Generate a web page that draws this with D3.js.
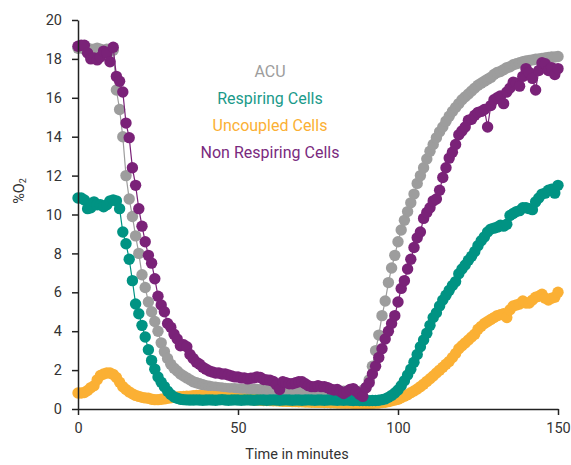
<!DOCTYPE html>
<html>
<head>
<meta charset="utf-8">
<script src="https://cdn.jsdelivr.net/npm/d3@7"></script>
<style>
body { margin: 0; background: #fff; }
text { font-family: Roboto, "DejaVu Sans", sans-serif; }
</style>
</head>
<body>
<svg></svg>
<script>
// minutes 0..150, one reading per minute
var minutes = d3.range(0, 151);

var acu = [
18.55, 18.6, 18.5, 18.55, 18.5, 18.5, 18.55, 18.5, 18.45, 18.5,
18.4, 18.45, 16.4, 15.4, 14.0, 12.0, 10.8, 9.9, 8.9, 8.0,
6.9, 6.25, 5.5, 5.0, 4.5, 4.0, 3.4, 2.95, 2.6, 2.3,
2.1, 1.95, 1.8, 1.7, 1.6, 1.5, 1.4, 1.35, 1.3, 1.25,
1.2, 1.17, 1.14, 1.12, 1.1, 1.08, 1.06, 1.05, 1.05, 1.04,
1.03, 1.02, 1.02, 1.01, 1.0, 1.0, 1.0, 0.99, 0.99, 0.98,
0.98, 0.98, 0.97, 0.97, 0.97, 0.96, 0.96, 0.96, 0.95, 0.95,
0.95, 0.95, 0.94, 0.94, 0.94, 0.93, 0.93, 0.93, 0.93, 0.92,
0.92, 0.92, 0.92, 0.91, 0.91, 0.91, 0.9, 0.9, 0.9, 0.95,
1.1, 1.5, 2.2, 3.0, 3.8, 4.8, 5.55, 6.5, 7.25, 7.9,
8.6, 9.2, 9.7, 10.15, 10.6, 11.05, 11.6, 12.0, 12.4, 12.85,
13.25, 13.6, 13.95, 14.25, 14.5, 14.8, 15.05, 15.3, 15.5, 15.7,
15.9, 16.05, 16.2, 16.35, 16.5, 16.65, 16.75, 16.85, 16.95, 17.05,
17.2, 17.3, 17.35, 17.45, 17.55, 17.6, 17.7, 17.75, 17.8, 17.85,
17.9, 17.92, 17.95, 17.98, 18.0, 18.02, 18.05, 18.08, 18.1, 18.1, 18.12
];

var respiring = [
10.85, 10.85, 10.75, 10.3, 10.35, 10.65, 10.5, 10.5, 10.4, 10.5,
10.7, 10.75, 10.7, 10.3, 9.1, 8.5, 7.7, 6.6, 5.4, 4.9,
4.3, 3.7, 3.05, 2.5, 2.05, 1.65, 1.38, 1.15, 0.92, 0.75,
0.62, 0.55, 0.5, 0.48, 0.47, 0.46, 0.46, 0.47, 0.46, 0.45,
0.46, 0.47, 0.46, 0.45, 0.47, 0.48, 0.46, 0.45, 0.46, 0.47,
0.46, 0.45, 0.46, 0.47, 0.46, 0.45, 0.46, 0.47, 0.46, 0.45,
0.46, 0.47, 0.46, 0.45, 0.46, 0.47, 0.46, 0.45, 0.46, 0.46,
0.45, 0.46, 0.47, 0.46, 0.45, 0.46, 0.46, 0.45, 0.46, 0.47,
0.46, 0.45, 0.46, 0.45, 0.46, 0.45, 0.44, 0.45, 0.44, 0.44,
0.44, 0.43, 0.44, 0.44, 0.45, 0.48, 0.52, 0.6, 0.7, 0.82,
0.98, 1.2, 1.45, 1.75, 2.05, 2.4, 2.8, 3.2, 3.55, 3.9,
4.3, 4.7, 4.95, 5.3, 5.6, 5.85, 6.1, 6.35, 6.55, 6.95,
7.2, 7.4, 7.65, 7.85, 8.1, 8.4, 8.65, 8.85, 9.1, 9.25,
9.3, 9.35, 9.45, 9.4, 9.5, 9.95, 10.05, 10.15, 10.2, 10.35,
10.35, 10.3, 10.25, 10.65, 10.85, 11.05, 11.1, 11.25, 11.3, 11.1, 11.5
];

var uncoupled = [
0.82, 0.82, 0.85, 0.95, 1.1, 1.2, 1.5, 1.72, 1.8, 1.85,
1.85, 1.78, 1.62, 1.38, 1.15, 1.0, 0.88, 0.78, 0.7, 0.65,
0.6, 0.57, 0.55, 0.5, 0.48, 0.48, 0.5, 0.52, 0.55, 0.58,
0.6, 0.62, 0.63, 0.65, 0.66, 0.66, 0.68, 0.7, 0.7, 0.68,
0.66, 0.65, 0.64, 0.63, 0.62, 0.6, 0.58, 0.56, 0.55, 0.53,
0.52, 0.5, 0.5, 0.49, 0.48, 0.47, 0.46, 0.45, 0.44, 0.44,
0.43, 0.42, 0.42, 0.41, 0.4, 0.4, 0.39, 0.38, 0.38, 0.37,
0.37, 0.36, 0.36, 0.35, 0.35, 0.34, 0.34, 0.33, 0.33, 0.32,
0.32, 0.31, 0.31, 0.3, 0.3, 0.3, 0.29, 0.29, 0.29, 0.28,
0.28, 0.28, 0.29, 0.3, 0.31, 0.33, 0.35, 0.38, 0.42, 0.46,
0.5, 0.58, 0.66, 0.74, 0.84, 0.93, 1.03, 1.15, 1.28, 1.42,
1.56, 1.7, 1.85, 2.0, 2.15, 2.3, 2.45, 2.65, 2.85, 3.1,
3.25, 3.4, 3.55, 3.7, 3.85, 4.1, 4.25, 4.4, 4.5, 4.6,
4.7, 4.8, 4.85, 4.9, 4.7, 5.1, 5.3, 5.35, 5.4, 5.55,
5.45, 5.45, 5.6, 5.75, 5.8, 5.9, 5.7, 5.6, 5.7, 5.75, 6.0
];

var nonRespiring = [
18.65, 18.7, 18.7, 18.3, 18.0, 18.05, 17.95, 18.1, 18.4, 18.3,
17.85, 18.6, 17.1, 16.85, 16.3, 14.7, 13.95, 12.4, 11.5, 10.3,
9.4, 8.6, 7.9, 7.5, 6.7, 5.8, 5.35, 5.0, 4.4, 4.2,
3.85, 3.6, 3.25, 3.3, 3.2, 2.8, 2.6, 2.4, 2.3, 2.15,
2.05, 1.95, 1.9, 1.85, 1.85, 1.8, 1.8, 1.75, 1.7, 1.65,
1.65, 1.6, 1.6, 1.55, 1.58, 1.6, 1.65, 1.62, 1.52, 1.5,
1.48, 1.42, 1.25, 1.0, 1.4, 1.35, 1.3, 1.3, 1.35, 1.4,
1.4, 1.3, 1.2, 1.15, 1.15, 1.2, 1.15, 1.15, 1.1, 1.02,
0.98, 1.0, 0.9, 0.8, 0.9, 1.0, 1.05, 0.9, 0.75, 0.65,
1.1, 1.35, 1.8, 2.2, 2.65, 3.1, 3.6, 4.0, 4.4, 4.8,
5.5, 6.2, 6.6, 7.2, 7.7, 8.3, 8.8, 9.1, 9.8, 10.1,
10.35, 10.7, 10.8, 11.25, 11.9, 12.4, 12.9, 13.2, 13.6, 14.1,
14.3, 14.5, 14.85, 14.9, 15.1, 15.25, 15.3, 15.4, 14.5, 15.6,
15.9, 16.0, 16.1, 15.7, 16.3, 16.5, 16.8, 16.75, 16.6, 17.1,
17.5, 17.3, 17.0, 16.4, 17.4, 17.8, 17.75, 17.4, 17.55, 17.2, 17.5
];

var seriesNames = ["ACU", "Respiring Cells", "Uncoupled Cells", "Non Respiring Cells"];
var seriesColors = ["#9d9d9d", "#009383", "#fbb034", "#7a2278"];
var xTicks = [0, 50, 100, 150];
var yTicks = [0, 2, 4, 6, 8, 10, 12, 14, 16, 18, 20];

var screen = {width: 571, height: 465};
var svg = d3.select("svg")
    .attr("width", screen.width)
    .attr("height", screen.height);

var xScale = d3.scaleLinear()
    .domain([0, 150])
    .range([78, 558]);

var yScale = d3.scaleLinear()
    .domain([0, 20])
    .range([409, 20]);

// draw order: gray first, purple on top
var series = [
    {name: seriesNames[0], values: acu, color: seriesColors[0]},
    {name: seriesNames[2], values: uncoupled, color: seriesColors[2]},
    {name: seriesNames[1], values: respiring, color: seriesColors[1]},
    {name: seriesNames[3], values: nonRespiring, color: seriesColors[3]}
];

var line = d3.line()
    .x(function(d){ return xScale(d.t); })
    .y(function(d){ return yScale(d.v); });

series.forEach(function(s){
    var pts = minutes.map(function(t, i){ return {t: t, v: s.values[i]}; });
    var g = svg.append("g");
    g.append("path")
        .attr("d", line(pts))
        .attr("fill", "none")
        .attr("stroke", s.color)
        .attr("stroke-width", 1.2);
    g.selectAll("circle")
        .data(pts)
        .enter()
        .append("circle")
        .attr("cx", function(d){ return xScale(d.t); })
        .attr("cy", function(d){ return yScale(d.v); })
        .attr("r", 5.7)
        .attr("fill", s.color);
});

var yAxis = svg.append("g")
    .attr("transform", "translate(78,0)")
    .call(d3.axisLeft(yScale).tickValues(yTicks).tickSize(6).tickSizeOuter(0).tickPadding(10));

var xAxis = svg.append("g")
    .attr("transform", "translate(0,409)")
    .call(d3.axisBottom(xScale).tickValues(xTicks).tickSize(6).tickSizeOuter(0).tickPadding(8));

svg.selectAll(".domain, .tick line")
    .attr("stroke", "#222")
    .attr("stroke-width", 1.5);
svg.selectAll(".tick text")
    .attr("font-size", 14.5)
    .attr("font-family", "Roboto, sans-serif")
    .attr("fill", "#333");

svg.append("text")
    .attr("x", 297)
    .attr("y", 459)
    .attr("text-anchor", "middle")
    .attr("font-size", 14.5)
    .attr("fill", "#333")
    .text("Time in minutes");

var yLabel = svg.append("text")
    .attr("transform", "translate(24,191) rotate(-90)")
    .attr("text-anchor", "middle")
    .attr("font-size", 14.5)
    .attr("fill", "#333");
yLabel.append("tspan").text("%O");
yLabel.append("tspan").attr("font-size", 9).attr("dy", 2).text("2");

var legendY = [77, 104, 131, 158];
var legendColors = ["#9d9d9d", "#1a9a8a", "#fbb034", "#7a2a7e"];
svg.selectAll(".legend")
    .data(seriesNames)
    .enter()
    .append("text")
    .attr("class", "legend")
    .attr("x", 270)
    .attr("y", function(d, i){ return legendY[i]; })
    .attr("text-anchor", "middle")
    .attr("font-size", 16)
    .attr("fill", function(d, i){ return legendColors[i]; })
    .text(function(d){ return d; });
</script>
</body>
</html>
